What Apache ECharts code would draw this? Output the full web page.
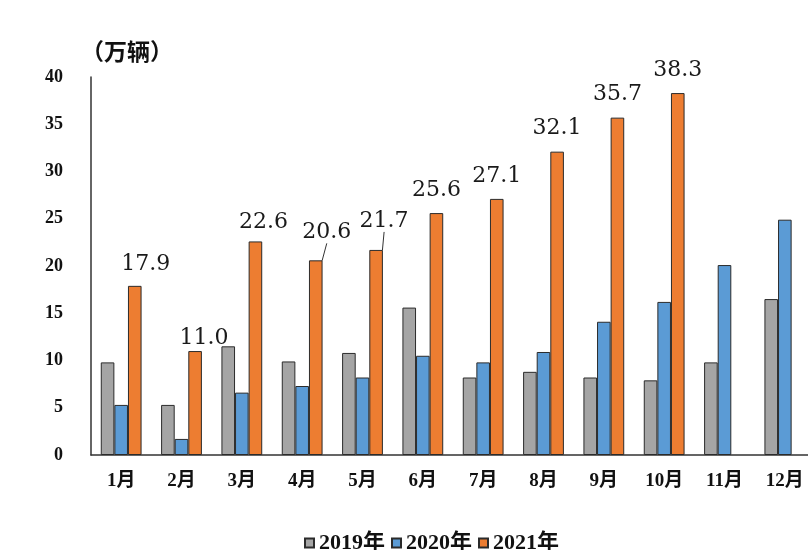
<!DOCTYPE html>
<html>
<head>
<meta charset="utf-8">
<script src="https://cdn.jsdelivr.net/npm/echarts@6/dist/echarts.min.js"></script>
<style>
html,body{margin:0;padding:0;background:#fff;overflow:hidden;}
#chart{width:815px;height:550px;}
</style>
</head>
<body>
<div id="chart"></div>
<script>
// ---- data ----
const months = ['1月','2月','3月','4月','5月','6月','7月','8月','9月','10月','11月','12月'];
const seriesNames = ['2019年','2020年','2021年'];
const sales2019 = [9.8, 5.3, 11.5, 9.9, 10.8, 15.6, 8.2, 8.8, 8.2, 7.9, 9.8, 16.5];
const sales2020 = [5.3, 1.7, 6.6, 7.3, 8.2, 10.5, 9.8, 10.9, 14.1, 16.2, 20.1, 24.9];
const sales2021 = [17.9, 11.0, 22.6, 20.6, 21.7, 25.6, 27.1, 32.1, 35.7, 38.3, null, null];
const unitLabel = '（万辆）';
const yMin = 0, yMax = 40, yStep = 5;

// ---- label nudges (styling, not data) ----
const labelShift = [[11,1],[9,10],[8,4],[11,-5],[8,-6],[0,0],[0,0],[0,0],[0,0],[0,0],[0,0],[0,0]];
const leaderIdx = [3,4];

const colors = ['#A5A5A5','#5B9BD5','#ED7D31'];
const serifCJK = "'Liberation Serif','Noto Sans CJK SC',serif";

const chart = echarts.init(document.getElementById('chart'), null, {renderer:'canvas'});

function barSeries(name, data, color, extra){
  return Object.assign({
    name: name,
    type: 'bar',
    data: data,
    barWidth: 13.6,
    barGap: '0%',
    itemStyle: {color: color, borderColor: '#2b2b2b', borderWidth: 1},
    emphasis: {disabled: true}
  }, extra || {});
}

const data2021 = sales2021.map((v, i) => leaderIdx.includes(i)
  ? {value: v, labelLine: {show: true, lineStyle: {color: '#333', width: 1}}}
  : v);

chart.setOption({
  animation: false,
  backgroundColor: '#fff',
  title: {
    text: unitLabel,
    left: 76, top: 35,
    textStyle: {fontSize: 23, fontWeight: 'bold', color: '#111', fontFamily: "'Noto Sans CJK SC',sans-serif"}
  },
  legend: {
    data: seriesNames,
    left: 299, top: 527,
    itemWidth: 9, itemHeight: 9, itemGap: 6,
    icon: 'rect',
    textStyle: {fontSize: 22, fontWeight: 'bold', color: '#111', fontFamily: serifCJK}
  },
  grid: {left: 91, top: 77, right: 0, bottom: 95, containLabel: false},
  xAxis: {
    type: 'category',
    data: months,
    axisLine: {show: true, lineStyle: {color: '#333', width: 1.5}},
    axisTick: {show: false},
    axisLabel: {margin: 17, fontSize: 19, fontWeight: 'bold', color: '#111', fontFamily: serifCJK, interval: 0},
    splitLine: {show: false}
  },
  yAxis: {
    type: 'value',
    min: yMin, max: yMax, interval: yStep,
    axisLine: {show: true, lineStyle: {color: '#333', width: 1.5}},
    axisTick: {show: false},
    splitLine: {show: false},
    axisLabel: {margin: 28, fontSize: 18, fontWeight: 'bold', color: '#111', fontFamily: "'Liberation Serif',serif"}
  },
  series: [
    barSeries(seriesNames[0], sales2019, colors[0]),
    barSeries(seriesNames[1], sales2020, colors[1]),
    barSeries(seriesNames[2], data2021, colors[2], {
      label: {
        show: true, position: 'top', distance: 12,
        fontSize: 22, color: '#1a1a1a', fontFamily: "'DejaVu Serif',serif",
        formatter: p => (p.value == null ? '' : Number(p.value).toFixed(1))
      },
      labelLine: {show: false},
      labelLayout: function (params) {
        const s = labelShift[params.dataIndex] || [0,0];
        return {dx: s[0], dy: s[1]};
      }
    })
  ]
});
</script>
</body>
</html>
